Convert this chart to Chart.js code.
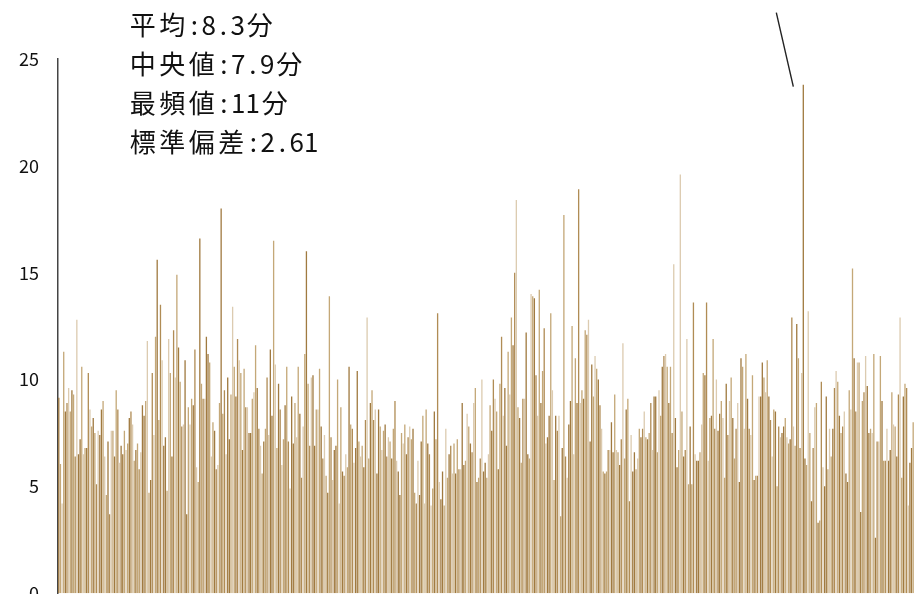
<!DOCTYPE html>
<html><head><meta charset="utf-8">
<script src="https://cdn.jsdelivr.net/npm/chart.js@4.4.0/dist/chart.umd.min.js"></script>
<style>
html,body{margin:0;padding:0;overflow:hidden;background:#fff;width:914px;height:594px}
canvas{display:block}
</style></head>
<body><canvas id="c" width="914" height="623"></canvas>
<script>
const valuesPart1 = [9.15,6.05,4.2,11.3,8.5,8.9,9.6,8.5,9.5,9.3,6.4,12.8,6.5,7.2,10.6,6.5,6.8,6.8,10.3,8.6,7.8,8.2,7.5,5.1,7.6,7.4,8.6,9.0,6.4,4.6,7.1,3.7,7.6,7.6,6.4,9.5,8.6,6.1,6.9,6.5,7.6,6.7,7.0,8.2,8.5,7.9,6.2,6.7,7.0,5.8,6.6,8.8,8.3,9.0,11.8,4.7,5.3,10.3,7.4,12.0,15.6,8.1,13.5,10.9,6.9,7.3,4.8,11.9,10.3,6.4,12.3,10.1,14.9,11.5,9.9,7.8,7.9,10.9,3.7,8.7,7.9,9.1,8.8,11.4,5.9,5.2,16.6,9.8,9.1,9.1,12.0,11.2,10.8,6.4,8.0,7.6,5.8,6.0,8.9,18.0,8.4,9.5,6.5,10.1,7.2];
const valuesPart2 = [9.3,13.4,10.6,9.2,11.9,10.9,10.3,6.7,10.5,8.7,8.7,7.5,7.5,9.1,9.4,11.6,9.6,7.7,6.9,5.6,7.1,7.7,10.1,7.4,11.4,8.3,16.5,10.7,6.8,9.8,8.6,6.0,7.2,8.8,10.6,7.1,4.9,9.2,7.0,8.9,7.3,10.6,8.4,5.4,7.8,11.2,16.0,9.8,6.9,10.1,10.2,6.9,8.6,8.6,10.5,7.8,6.3,7.4,5.5,4.7,13.9,7.3,5.3,6.7,6.9,10.0,4.2,8.7,5.7,5.5,6.5,5.9,10.6,7.9,7.7,6.1,6.8,10.4,7.1,6.4,6.9,5.9,8.1,12.9,6.3,8.9,9.5,8.1,8.6,5.6,8.6,7.8,6.7,7.6,7.9,6.4,7.3,7.1,6.3,7.7,9.0,6.2,5.7,4.6,7.5,7.0];
const valuesPart3 = [7.9,6.5,7.3,7.8,7.2,7.7,4.7,4.2,6.2,4.6,7.1,8.3,4.2,8.6,7.0,6.5,4.1,4.9,8.5,7.2,13.1,5.2,4.4,5.7,4.1,7.7,5.4,6.5,6.9,5.6,7.0,5.6,7.2,5.8,5.8,8.9,6.0,6.2,8.4,7.8,7.0,6.6,8.9,9.6,5.2,5.4,6.3,10.0,5.7,6.1,5.4,6.5,8.8,7.6,10.0,9.1,8.5,5.8,9.8,12.0,8.3,9.6,6.9,11.3,9.3,12.9,11.6,15.0,18.4,8.7,8.2,6.1,9.1,9.1,12.2,6.5,6.3,14.0,13.9,13.8,10.2,8.3,14.2,8.9,10.4,12.4,7.0,7.3,8.3,13.1,9.5,5.3,8.3,7.6,8.3,3.6,6.8,17.7,6.4,5.4,7.9,9.0,12.5,6.5,11.0];
const valuesPart4 = [8.9,18.9,8.9,9.5,9.1,12.3,12.1,12.8,7.1,10.7,9.2,11.1,10.5,10.0,8.8,7.7,5.7,5.6,5.7,6.7,6.7,8.0,6.6,9.3,6.7,6.6,6.0,7.2,11.7,6.3,8.6,9.1,4.3,7.4,5.7,6.6,5.8,6.3,7.7,7.3,7.7,8.5,7.3,7.2,7.5,8.9,6.7,9.2,9.2,6.6,9.5,8.3,10.6,11.1,11.2,10.6,8.9,10.6,7.5,15.4,8.2,5.9,6.7,19.6,8.5,6.4,6.7,11.9,5.1,7.8,5.1,13.6,6.5,6.2,6.2,6.6,7.9,10.3,10.2,13.6,6.2,8.2,8.3,11.9,7.7,10.0,7.6,8.4,9.0,8.2,5.4,9.8,7.4,9.0,10.1,8.2,6.3,7.7,8.9,5.2,11.0,10.6,7.7,11.2,9.1];
const valuesPart5 = [7.7,7.4,10.2,5.3,5.5,5.5,9.2,9.2,10.8,10.1,9.4,10.9,9.2,8.1,6.4,8.6,8.5,5.0,7.8,7.3,7.5,7.8,8.2,7.3,7.0,7.2,12.9,7.8,6.9,12.6,11.0,6.8,10.3,23.8,6.3,6.0,13.2,7.5,4.3,6.8,8.7,8.9,3.3,3.4,9.9,5.9,5.0,9.2,5.8,7.7,6.4,7.7,9.6,10.4,9.9,8.3,7.5,7.8,8.5,5.6,5.2,9.5,8.6,15.2,11.0,8.5,10.8,10.8,3.8,9.0,9.4,11.1,9.7,7.5,7.7,7.5,11.2,2.6,7.1,7.1,11.1,9.0,6.2,6.2,7.7,6.2,6.7,9.4,7.9,7.8,6.4,9.3,12.9,5.4,9.2,9.8,9.6,4.1,6.1,6.8,8.0];

const values = [].concat(valuesPart1, valuesPart2, valuesPart3, valuesPart4, valuesPart5);
const categories = values.map((_, i) => String(i + 1));
const yTickValues = [0, 5, 10, 15, 20, 25];
const statLines = ["平均:8.3分", "中央値:7.9分", "最頻値:11分", "標準偏差:2.61"];

const palette = ["#a07a40", "#c4a878", "#dccbb0", "#b08c55"];
const colorPattern = [0, 1, 2, 1, 0, 3, 2, 1, 0, 1, 3, 2, 0];

function drawCellText(ctx, text, x0, yMid, full, half) {
  let x = x0;
  for (const ch of text) {
    const w = ch.charCodeAt(0) < 256 ? half : full;
    ctx.fillText(ch, x + w / 2, yMid);
    x += w;
  }
}

const overlay = {
  id: 'overlay',
  afterDatasetsDraw(chart) {
    const ctx = chart.ctx, x = chart.scales.x, y = chart.scales.y;
    let maxI = 0;
    values.forEach((v, i) => { if (v > values[maxI]) maxI = i; });
    const bx = x.getPixelForValue(maxI), by = y.getPixelForValue(values[maxI]);
    ctx.save();
    ctx.strokeStyle = '#222';
    ctx.lineWidth = 1.4;
    ctx.beginPath();
    ctx.moveTo(bx - 27, by - 72);
    ctx.lineTo(bx - 10, by + 2);
    ctx.stroke();
    ctx.fillStyle = '#111';
    ctx.font = '26px "Noto Sans CJK JP"';
    ctx.textBaseline = 'middle';
    ctx.textAlign = 'center';
    statLines.forEach((t, i) => drawCellText(ctx, t, 128, 25 + i * 39, 29.5, 14.5));
    ctx.restore();
  }
};

new Chart(document.getElementById('c'), {
  type: 'bar',
  data: {
    labels: categories,
    datasets: [{
      data: values,
      backgroundColor: values.map((_, i) => palette[colorPattern[i % colorPattern.length]]),
      borderWidth: 0,
      barPercentage: 0.8,
      categoryPercentage: 1.0
    }]
  },
  options: {
    responsive: false,
    maintainAspectRatio: false,
    animation: false,
    devicePixelRatio: 1,
    layout: { padding: { top: 59, left: 0, right: 0, bottom: 0 } },
    plugins: { legend: { display: false }, tooltip: { enabled: false }, title: { display: false } },
    scales: {
      x: { display: false, offset: true },
      y: {
        min: 0, max: 25,
        afterBuildTicks: (scale) => { scale.ticks = yTickValues.map(v => ({ value: v })); },
        grid: { display: false, drawTicks: false },
        border: { display: true, color: '#444', width: 1.5 },
        ticks: { padding: 19, color: '#111', font: { family: '"Noto Sans CJK JP"', size: 18 } }
      }
    }
  },
  plugins: [overlay]
});
</script>
</body></html>
